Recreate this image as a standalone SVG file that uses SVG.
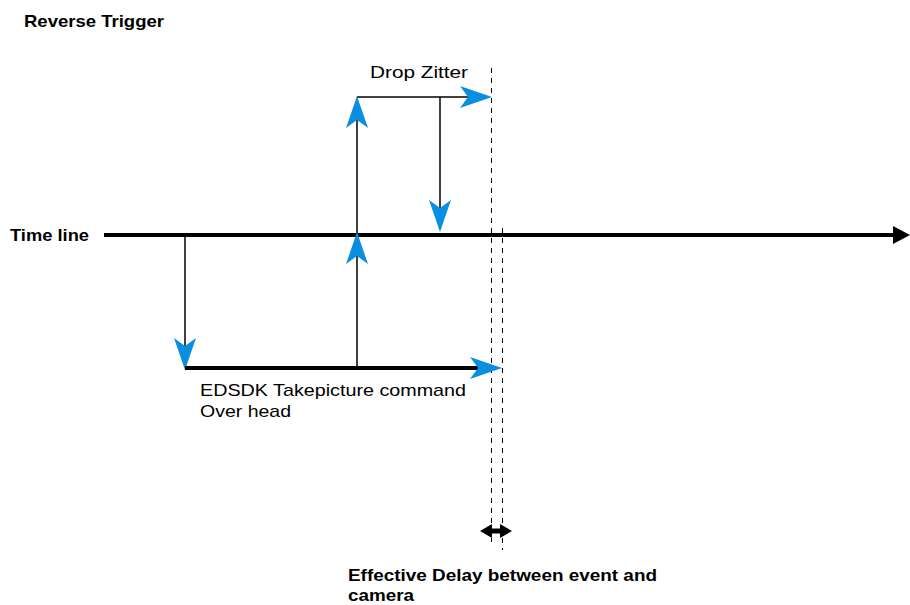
<svg xmlns="http://www.w3.org/2000/svg" width="910" height="605" viewBox="0 0 910 605">
  <style>
    .t { font-family: "Liberation Sans", Arial, sans-serif; fill: #000; }
    .b { font-weight: bold; font-size: 17px; }
    .n { font-size: 17px; }
    .ln { stroke: #000; stroke-width: 1.5; fill: none; }
    .thick { stroke: #000; stroke-width: 4; fill: none; }
    .dash { stroke: #000; stroke-width: 1; stroke-dasharray: 5 5; fill: none; }
    .blue { fill: #0a8fe0; }
  </style>
  <defs>
    <!-- stealth arrowhead, tip at origin, pointing +x -->
    <path id="stealth" d="M0,0 L-32,-11 L-24,0 L-32,11 Z"/>
  </defs>

  <g id="title"><text class="t b" x="24" y="27" textLength="140" lengthAdjust="spacingAndGlyphs">Reverse Trigger</text></g>
  <g id="timeline-label"><text class="t b" x="10" y="241" textLength="79" lengthAdjust="spacingAndGlyphs">Time line</text></g>
  <g id="drop-label"><text class="t n" x="370" y="78" textLength="98" lengthAdjust="spacingAndGlyphs">Drop Zitter</text></g>
  <g id="edsdk-label">
    <text class="t n" x="200" y="396" textLength="266" lengthAdjust="spacingAndGlyphs">EDSDK Takepicture command</text>
    <text class="t n" x="200" y="417" textLength="91" lengthAdjust="spacingAndGlyphs">Over head</text>
  </g>
  <g id="delay-label">
    <text class="t b" x="348" y="581" textLength="309" lengthAdjust="spacingAndGlyphs">Effective Delay between event and</text>
    <text class="t b" x="348" y="601" textLength="66" lengthAdjust="spacingAndGlyphs">camera</text>
  </g>

  <g id="connectors">
    <!-- time axis -->
    <line class="thick" x1="104" y1="235" x2="894" y2="235"/>
    <path d="M910,235 L893,226 L893,244 Z" fill="#000"/>

    <!-- dashed markers -->
    <line class="dash" x1="491.5" y1="68" x2="491.5" y2="542"/>
    <line class="dash" x1="502.5" y1="228" x2="502.5" y2="550"/>

    <!-- trigger drop to overhead -->
    <line class="ln" x1="185" y1="235" x2="185" y2="360"/>
    <use href="#stealth" class="blue" transform="translate(185,370) rotate(90)"/>

    <!-- overhead bar -->
    <line class="thick" x1="185" y1="368" x2="480" y2="368"/>
    <use href="#stealth" class="blue" transform="translate(502,368)"/>

    <!-- rise back -->
    <line class="ln" x1="357" y1="368" x2="357" y2="100"/>
    <use href="#stealth" class="blue" transform="translate(357,232) rotate(-90)"/>
    <use href="#stealth" class="blue" transform="translate(357,96) rotate(-90)"/>

    <!-- jitter bar -->
    <line class="ln" x1="357" y1="97" x2="475" y2="97"/>
    <use href="#stealth" class="blue" transform="translate(492,97)"/>

    <!-- drop -->
    <line class="ln" x1="440" y1="97" x2="440" y2="222"/>
    <use href="#stealth" class="blue" transform="translate(440,232) rotate(90)"/>

    <!-- effective delay double arrow -->
    <line stroke="#000" stroke-width="5" x1="486" y1="531" x2="506" y2="531"/>
    <path d="M480,531 L492,524 L492,538 Z M512,531 L500,524 L500,538 Z" fill="#000"/>
  </g>
</svg>
